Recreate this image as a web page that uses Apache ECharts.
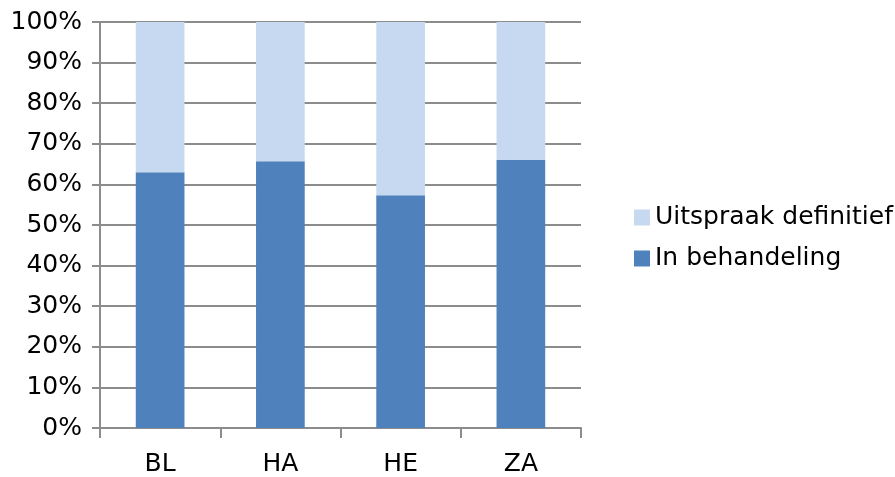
<!DOCTYPE html>
<html><head><meta charset="utf-8">
<script src="https://cdn.jsdelivr.net/npm/echarts@6/dist/echarts.min.js"></script>
<style>html,body{margin:0;padding:0;background:#fff}#c{width:895px;height:477px}</style>
</head><body><div id="c"></div>
<script>
var categories = ['BL','HA','HE','ZA'];
var inBehandeling = [63.0, 65.7, 57.3, 66.0];
var uitspraakDefinitief = [37.0, 34.3, 42.7, 34.0];
var seriesNames = ['In behandeling','Uitspraak definitief'];

var chart = echarts.init(document.getElementById('c'), null, {renderer:'canvas'});
var font = 'DejaVu Sans';
chart.setOption({
  animation:false,
  grid:{left:100,right:314,top:22,bottom:49,containLabel:false},
  legend:{
    orient:'vertical', left:629, top:200,
    data:[seriesNames[1], seriesNames[0]],
    itemWidth:16, itemHeight:16, itemGap:16,
    icon:'rect',
    textStyle:{fontFamily:font,fontSize:25,color:'#000'}
  },
  xAxis:{
    type:'category', data:categories, boundaryGap:true,
    axisLine:{lineStyle:{color:'#8c8c8c',width:2}},
    axisTick:{show:true,length:10,lineStyle:{color:'#8c8c8c',width:2}},
    axisLabel:{fontFamily:font,fontSize:25,color:'#000',margin:24}
  },
  yAxis:{
    type:'value', min:0, max:100, interval:10,
    axisLine:{show:true,lineStyle:{color:'#8c8c8c',width:2}},
    axisTick:{show:true,length:8,lineStyle:{color:'#8c8c8c',width:2}},
    splitLine:{lineStyle:{color:'#8c8c8c',width:2}},
    axisLabel:{fontFamily:font,fontSize:25,color:'#000',margin:18,formatter:'{value}%'}
  },
  series:[
    {name:seriesNames[0],type:'bar',stack:'a',data:inBehandeling,barWidth:'40.5%',itemStyle:{color:'#4F81BD'}},
    {name:seriesNames[1],type:'bar',stack:'a',data:uitspraakDefinitief,barWidth:'40.5%',itemStyle:{color:'#C6D9F1'}}
  ]
});
</script></body></html>
